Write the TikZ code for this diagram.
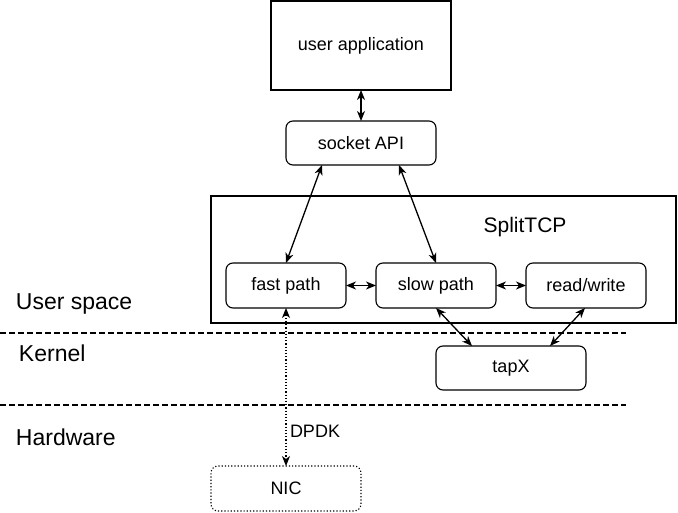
\documentclass[tikz,border=0pt]{standalone}
\usepackage{fontspec}
\setmainfont{Liberation Sans}
\usetikzlibrary{arrows.meta}
\begin{document}
\begin{tikzpicture}[x=1pt,y=-1pt,
  every node/.style={inner sep=0pt, outer sep=0pt},
  box/.style={draw, line width=1.1pt, rounded corners=7pt, minimum width=120pt, minimum height=45pt, font=\fontsize{18}{21}\selectfont},
  plainbox/.style={draw, line width=1.1pt, font=\fontsize{18}{21}\selectfont},
  lbl/.style={font=\fontsize{23}{26}\selectfont, anchor=base west},
  tip/.style={Stealth[length=10pt,width=8pt,inset=3pt]},
  conn/.style={line width=1.3pt, {Stealth[length=10pt,width=8pt,inset=3pt]}-{Stealth[length=10pt,width=8pt,inset=3pt]}},
  sep/.style={line width=1.1pt, dash pattern=on 6pt off 3pt},
  dots/.style={dash pattern=on 1.2pt off 2pt}
]
\useasboundingbox (0,0) rectangle (678,513);
% container
\node[plainbox, minimum width=465pt, minimum height=127pt, anchor=north west] (split) at (211,196) {};
\node[font=\fontsize{21}{24}\selectfont] (splitlbl) at (525,227) {SplitTCP};
% nodes
\node[plainbox, minimum width=180pt, minimum height=89pt] (app) at (361,45.5) {user application};
\node[box, minimum width=150pt, minimum height=44pt] (sock) at (361,143) {socket API};
\node[box] (fast) at (286,285.5) {fast path};
\node[box] (slow) at (436,285.5) {slow path};
\node[box] (rw) at (586,285.5) {read/write};
\node[box, minimum width=150pt, minimum height=44pt] (tap) at (511,368) {tapX};
\node[box, dots, minimum width=150pt, minimum height=45pt] (nic) at (286,488.5) {NIC};
% separators
\coordinate (s1a) at (0,333); \coordinate (s1b) at (626,333);
\coordinate (s2a) at (0,405); \coordinate (s2b) at (626,405);
\draw[sep] (s1a) -- (s1b);
\draw[sep] (s2a) -- (s2b);
% labels
\node[lbl] (us) at (16,310) {User space};
\node[lbl] (kn) at (19,362) {Kernel};
\node[lbl] (hw) at (16,445) {Hardware};
% connectors
\draw[conn] (app.south) -- (sock.north);
\draw[conn] ([xshift=-39pt]sock.south) -- (fast.north);
\draw[conn] ([xshift=38pt]sock.south) -- (slow.north);
\draw[conn] (fast.east) -- (slow.west);
\draw[conn] (slow.east) -- (rw.west);
\draw[conn] (slow.south) -- ([xshift=-39pt]tap.north);
\draw[conn] ([xshift=-1pt]rw.south) -- ([xshift=39pt]tap.north);
\draw[conn, line width=1.1pt, dots] (fast.south) -- node[right=4pt, pos=0.78, font=\fontsize{18}{21}\selectfont] (dpdk) {DPDK} (nic.north);
\end{tikzpicture}
\end{document}
